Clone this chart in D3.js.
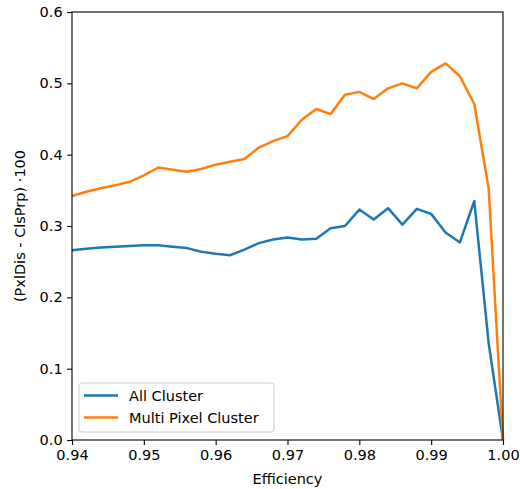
<!DOCTYPE html>
<html>
<head>
<meta charset="utf-8">
<script src="https://cdn.jsdelivr.net/npm/d3@7"></script>
<style>
  body { margin: 0; background: #fff; }
  text { font-family: "DejaVu Sans", sans-serif; fill: #000; }
</style>
</head>
<body>
<div id="chart"></div>
<script>
// efficiency values (x) shared by both series
const efficiency = [0.940, 0.942, 0.944, 0.946, 0.948, 0.950, 0.952, 0.954, 0.956, 0.958,
    0.960, 0.962, 0.964, 0.966, 0.968, 0.970, 0.972, 0.974, 0.976, 0.978,
    0.980, 0.982, 0.984, 0.986, 0.988, 0.990, 0.992, 0.994, 0.996, 0.998, 1.000];

const allCluster = [0.266, 0.268, 0.270, 0.271, 0.272, 0.273, 0.273, 0.271, 0.269, 0.264,
    0.261, 0.259, 0.267, 0.276, 0.281, 0.284, 0.281, 0.282, 0.297, 0.300,
    0.323, 0.309, 0.325, 0.302, 0.324, 0.317, 0.291, 0.277, 0.335, 0.136, 0.0];

const multiPixel = [0.342, 0.348, 0.353, 0.357, 0.362, 0.371, 0.382, 0.379, 0.376, 0.380,
    0.386, 0.390, 0.394, 0.410, 0.419, 0.426, 0.449, 0.464, 0.457, 0.484,
    0.488, 0.478, 0.493, 0.500, 0.493, 0.516, 0.528, 0.510, 0.471, 0.353, 0.0];

const xTicks = [0.94, 0.95, 0.96, 0.97, 0.98, 0.99, 1.00];
const yTicks = [0.0, 0.1, 0.2, 0.3, 0.4, 0.5, 0.6];

const series = [
    { name: "All Cluster", values: allCluster, color: "#1f77b4" },
    { name: "Multi Pixel Cluster", values: multiPixel, color: "#ff7f0e" }
];

const width = 520, height = 489;
const margin = { top: 12, right: 17, bottom: 49, left: 72 };
const fontSize = "14.5px";

const svg = d3.select("#chart").append("svg")
    .attr("width", width)
    .attr("height", height);

const x = d3.scaleLinear().domain([0.94, 1.0]).range([margin.left, width - margin.right]);
const y = d3.scaleLinear().domain([0, 0.6]).range([height - margin.bottom, margin.top]);

// lines
const line = d3.line()
    .x((d, i) => x(efficiency[i]))
    .y(d => y(d));

const plot = svg.append("g");
series.forEach(s => {
    plot.append("path")
        .datum(s.values)
        .attr("fill", "none")
        .attr("stroke", s.color)
        .attr("stroke-width", 2.5)
        .attr("stroke-linejoin", "round")
        .attr("d", line);
});

// axes
const xAxis = svg.append("g")
    .attr("transform", `translate(0,${height - margin.bottom})`)
    .call(d3.axisBottom(x).tickValues(xTicks).tickFormat(d3.format(".2f")).tickSize(4.9).tickPadding(4.5));
const yAxis = svg.append("g")
    .attr("transform", `translate(${margin.left},0)`)
    .call(d3.axisLeft(y).tickValues(yTicks).tickFormat(d3.format(".1f")).tickSize(4.9).tickPadding(4.5));

[xAxis, yAxis].forEach(g => {
    g.select(".domain").remove();
    g.selectAll(".tick line").attr("stroke", "#000").attr("stroke-width", 1.1);
    g.selectAll(".tick text").attr("font-size", fontSize).attr("fill", "#000");
});

// frame
svg.append("rect")
    .attr("x", margin.left)
    .attr("y", margin.top)
    .attr("width", width - margin.left - margin.right)
    .attr("height", height - margin.top - margin.bottom)
    .attr("fill", "none")
    .attr("stroke", "#000")
    .attr("stroke-width", 1.1);

// axis labels
svg.append("text")
    .attr("x", (margin.left + width - margin.right) / 2)
    .attr("y", 484)
    .attr("text-anchor", "middle")
    .attr("font-size", fontSize)
    .text("Efficiency");

svg.append("text")
    .attr("transform", `translate(25,${(margin.top + height - margin.bottom) / 2}) rotate(-90)`)
    .attr("text-anchor", "middle")
    .attr("font-size", fontSize)
    .text("(PxlDis - ClsPrp) \u00b7100");

// legend
const legend = svg.append("g").attr("transform", "translate(79,383)");
legend.append("rect")
    .attr("width", 195)
    .attr("height", 49)
    .attr("rx", 3)
    .attr("fill", "#fff")
    .attr("fill-opacity", 0.8)
    .attr("stroke", "#ccc")
    .attr("stroke-width", 1);

series.forEach((s, i) => {
    const yy = 12.5 + i * 22;
    legend.append("line")
        .attr("x1", 5).attr("x2", 39)
        .attr("y1", yy).attr("y2", yy)
        .attr("stroke", s.color)
        .attr("stroke-width", 2.5);
    legend.append("text")
        .attr("x", 50)
        .attr("y", yy + 5)
        .attr("font-size", fontSize)
        .text(s.name);
});
</script>
</body>
</html>
